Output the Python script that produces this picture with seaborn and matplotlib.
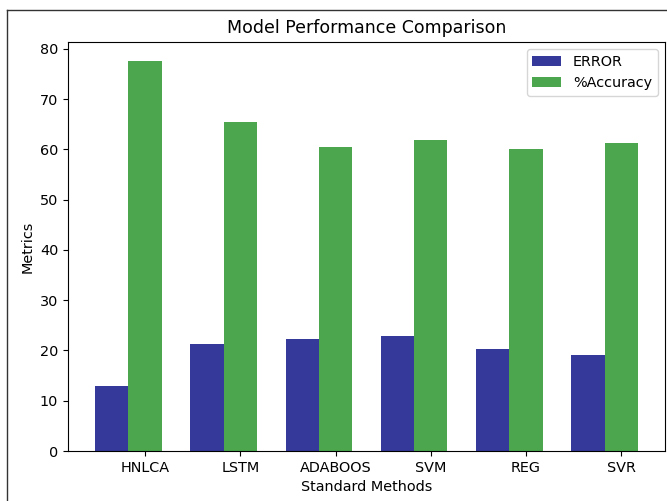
import numpy as np
import pandas as pd
import matplotlib
matplotlib.use("Agg")
import matplotlib.pyplot as plt
from matplotlib.lines import Line2D
import seaborn as sns

# Donnees
methods = ["HNLCA", "LSTM", "ADABOOS", "SVM", "REG", "SVR"]
error = [13.0, 21.3, 22.3, 22.9, 20.2, 19.0]
accuracy = [77.5, 65.5, 60.5, 61.9, 60.1, 61.3]

df = pd.DataFrame({
    "Method": methods * 2,
    "Value": error + accuracy,
    "Metric": ["ERROR"] * len(methods) + ["%Accuracy"] * len(methods),
})

plt.rcParams["font.size"] = 10.4

fig = plt.figure(figsize=(6.67, 5.01), dpi=100)
ax = fig.add_axes([0.102, 0.0998, 0.895, 0.817])

sns.barplot(data=df, x="Method", y="Value", hue="Metric",
            palette=["#353999", "#4ca64e"], saturation=1, width=0.7, ax=ax)

# Les etiquettes sont centrees sous la barre verte
ax.set_xticks(np.arange(len(methods)) + 0.175)
ax.set_xticklabels(methods)
ax.set_xlim(-0.635, len(methods) - 1 + 0.635)
ax.set_ylim(0, 81.4)

ax.set_title("Model Performance Comparison", fontsize=12.5)
ax.set_xlabel("Standard Methods")
ax.set_ylabel("Metrics")
sns.move_legend(ax, "upper right", title=None)

# Cadre de la capture d'ecran (haut et gauche)
fig.add_artist(Line2D([0.0105, 1.0], [0.981, 0.981], color="#333333", lw=1))
fig.add_artist(Line2D([0.0105, 0.0105], [0.0, 0.981], color="#333333", lw=1))

fig.savefig("out.png", dpi=100)
